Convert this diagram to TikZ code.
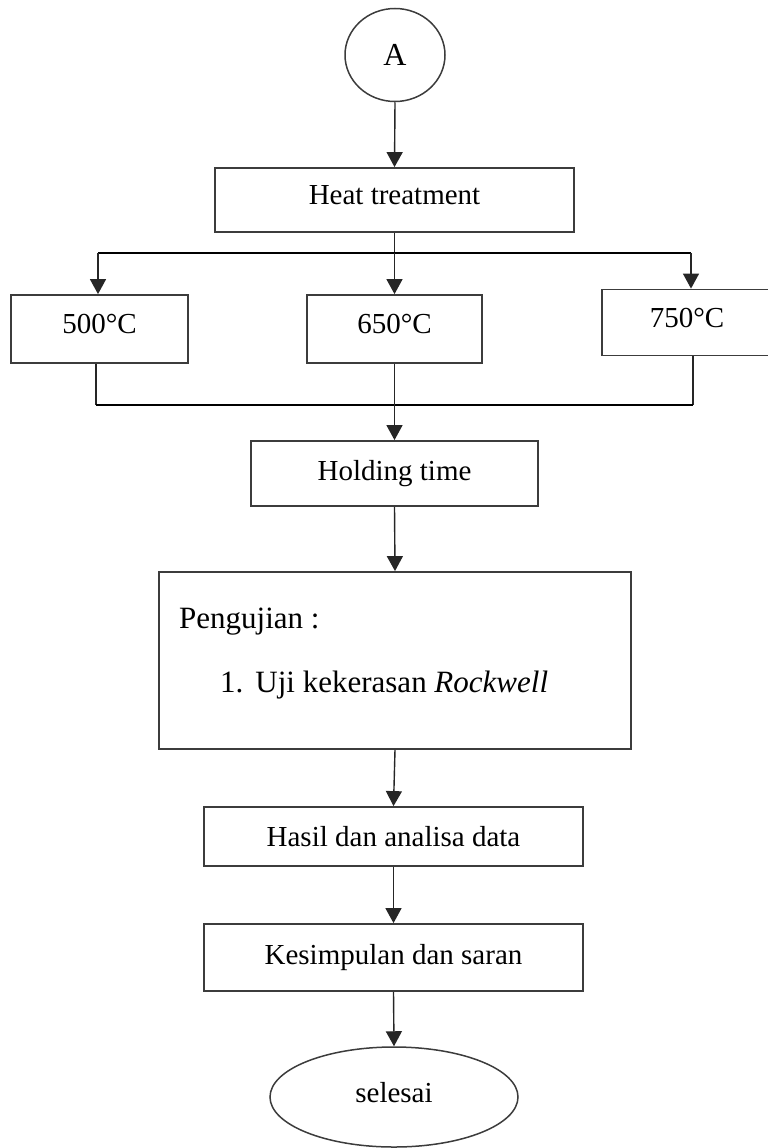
\documentclass[tikz,border=0pt]{standalone}
\usepackage{fontspec}
\setmainfont{Liberation Serif}
\usetikzlibrary{arrows.meta,shapes.geometric}
\definecolor{boxgray}{HTML}{3C3C3C}
\begin{document}
\begin{tikzpicture}[x=1pt,y={(0pt,-1pt)},
  txt/.style={font=\fontsize{29}{34}\selectfont},
  box/.style={draw=boxgray,line width=1.8pt,rectangle,inner sep=0pt,txt},
  oval/.style={draw=boxgray,line width=1.5pt,ellipse,inner sep=0pt,txt},
  arr/.style={draw=black!85,line width=1.4pt,-{Triangle[width=16pt,length=15pt]}},
  ln/.style={draw=black!85,line width=1.4pt},
  bus/.style={draw=black,line width=2.8pt}]
\useasboundingbox (0,0) rectangle (768,1148);

\node[oval,minimum width=100pt,minimum height=93pt,font=\fontsize{32}{36}\selectfont] (A) at (395,55) {A};
\node[box,minimum width=359pt,minimum height=64pt,text depth=10pt] (heat) at (394.5,200) {Heat treatment};

\node[box,minimum width=177pt,minimum height=68pt,text depth=10pt] (t500) at (99.5,329) {500°C};
\node[box,minimum width=175pt,minimum height=68pt,text depth=10pt] (t650) at (394.5,329) {650°C};
\node[box,minimum width=170pt,minimum height=66pt,text depth=10pt] (t750) at (687,322.5) {750°C};

\node[box,minimum width=287pt,minimum height=65pt] (hold) at (394.5,473.5) {Holding time};

\node[box,minimum width=472pt,minimum height=177pt] (peng) at (395,660.5) {};
\node[anchor=base west,inner sep=0pt,font=\fontsize{31}{36}\selectfont] (pt1) at (179,628) {Pengujian :};
\node[anchor=base west,inner sep=0pt,font=\fontsize{31}{36}\selectfont] (pt2) at (220,692) {1.\hspace{12pt}Uji kekerasan \textit{Rockwell}};

\node[box,minimum width=379pt,minimum height=59pt] (hasil) at (393.5,836.5) {Hasil dan analisa data};
\node[box,minimum width=379pt,minimum height=67pt] (kes) at (393.5,957.5) {Kesimpulan dan saran};
\node[oval,minimum width=248pt,minimum height=100pt,text depth=10pt] (sel) at (394,1097) {selesai};

\coordinate (jc) at (heat.south |- 0,253);
\coordinate (jl) at (98,253);
\coordinate (jr) at (691,253);
\coordinate (bl) at (96,405);
\coordinate (br) at (693,405);

\draw[arr] (A.south) -- (heat.north);
\draw[ln] (heat.south) -- (jc);
\draw[bus] (jl) -- (jr);
\draw[arr] (jl) -- (jl |- t500.north);
\draw[arr] (jc) -- (t650.north);
\draw[arr] (jr) -- (jr |- t750.north);

\draw[ln] (bl |- t500.south) -- (bl);
\draw[ln] (br |- t750.south) -- (br);
\draw[bus] (bl) -- (br);
\draw[arr] (t650.south) -- (hold.north);

\draw[arr] (hold.south) -- (peng.north);
\draw[arr] (peng.south) -- (hasil.north);
\draw[arr] (hasil.south) -- (kes.north);
\draw[arr] (kes.south) -- (sel.north);
\end{tikzpicture}
\end{document}
